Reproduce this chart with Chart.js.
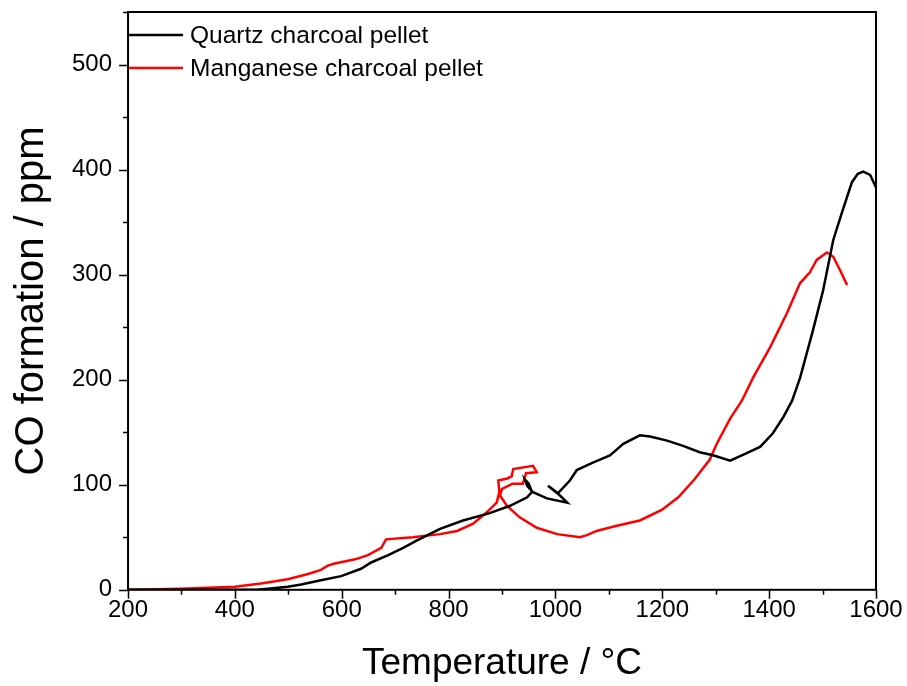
<!DOCTYPE html>
<html>
<head>
<meta charset="utf-8">
<script src="https://cdn.jsdelivr.net/npm/chart.js@4"></script>
<style>
  html, body { margin: 0; padding: 0; background: #fff; }
  #wrap { width: 907px; height: 686px; }
</style>
</head>
<body>
<div id="wrap"><canvas id="coChart" width="907" height="686"></canvas></div>
<script>
// Quartz charcoal pellet: temperature (°C) and CO (ppm), in recorded order
const quartzTemp = [200, 300, 400, 440, 462, 499, 524, 561, 599, 636, 655, 687, 715, 741, 784, 827, 877, 915, 947, 956, 950, 943, 947, 958, 984, 1022, 1008, 986, 1005, 1027, 1040, 1070, 1102, 1127, 1158, 1177, 1209, 1239, 1270, 1295, 1327, 1358, 1383, 1407, 1426, 1443, 1458, 1482, 1501, 1520, 1538, 1555, 1566, 1576, 1589, 1600];
const quartzCO = [0, 0, 0, 0, 1, 3, 5, 9, 13, 20, 26, 33, 40, 47, 58, 66, 73, 80, 88, 93, 101, 105, 99, 93, 87, 83, 90, 99, 92, 104, 114, 121, 128, 139, 147, 146, 142, 137, 131, 128, 123, 130, 136, 149, 164, 180, 202, 247, 285, 333, 362, 388, 396, 398, 395, 383];

// Manganese charcoal pellet
const manganeseTemp = [200, 299, 400, 449, 499, 537, 561, 574, 587, 625, 649, 674, 683, 733, 784, 816, 846, 872, 890, 895, 893, 910, 918, 921, 958, 965, 945, 939, 920, 900, 896, 909, 933, 965, 1003, 1046, 1059, 1077, 1115, 1158, 1199, 1230, 1260, 1289, 1302, 1327, 1349, 1370, 1402, 1433, 1458, 1476, 1489, 1508, 1520, 1533, 1546];
const manganeseCO = [0, 1, 3, 6, 10, 15, 19, 23, 25, 29, 33, 40, 48, 50, 53, 56, 63, 74, 83, 93, 104, 106, 108, 115, 118, 112, 111, 101, 101, 96, 90, 80, 69, 59, 53, 50, 52, 56, 61, 66, 76, 88, 105, 124, 139, 163, 180, 202, 231, 263, 292, 302, 314, 321, 317, 304, 290];

const seriesLabels = ['Quartz charcoal pellet', 'Manganese charcoal pellet'];
const seriesColors = ['#000000', '#ff0000'];

const FONT = '"Liberation Sans", Arial, sans-serif';

const toPoints = (xs, ys) => xs.map((x, i) => ({ x: x, y: ys[i] }));

// frame, tick marks and the legend are drawn by hand
const framePlugin = {
  id: 'frame',
  afterDraw(chart) {
    const { ctx, chartArea: a, scales } = chart;
    ctx.save();
    ctx.strokeStyle = '#000';
    ctx.lineWidth = 2;
    ctx.strokeRect(a.left, a.top, a.right - a.left, a.bottom - a.top);

    ctx.lineWidth = 1.5;
    ctx.beginPath();
    for (let v = 200; v <= 1600; v += 100) {
      const px = Math.round(scales.x.getPixelForValue(v)) + 0.5;
      const len = v % 200 === 0 ? 9 : 5;
      ctx.moveTo(px, a.bottom);
      ctx.lineTo(px, a.bottom + len);
    }
    for (let v = 0; v <= 550; v += 50) {
      const py = Math.round(scales.y.getPixelForValue(v)) + 0.5;
      const len = v % 100 === 0 ? 9 : 5;
      ctx.moveTo(a.left, py);
      ctx.lineTo(a.left - len, py);
    }
    ctx.stroke();

    // legend
    ctx.font = '24.5px ' + FONT;
    ctx.textBaseline = 'middle';
    ctx.fillStyle = '#000';
    chart.data.datasets.forEach((ds, i) => {
      const y = a.top + 23 + i * 33;
      ctx.strokeStyle = ds.borderColor;
      ctx.lineWidth = 2.5;
      ctx.beginPath();
      ctx.moveTo(a.left + 1, y);
      ctx.lineTo(a.left + 55, y);
      ctx.stroke();
      ctx.fillText(ds.label, a.left + 62, y + 1);
    });
    ctx.restore();
  },
};

new Chart(document.getElementById('coChart'), {
  type: 'scatter',
  data: {
    datasets: [
      {
        label: seriesLabels[0],
        data: toPoints(quartzTemp, quartzCO),
        borderColor: seriesColors[0],
        backgroundColor: seriesColors[0],
      },
      {
        label: seriesLabels[1],
        data: toPoints(manganeseTemp, manganeseCO),
        borderColor: seriesColors[1],
        backgroundColor: seriesColors[1],
      },
    ],
  },
  options: {
    responsive: false,
    animation: false,
    showLine: true,
    elements: {
      point: { radius: 0, hoverRadius: 0 },
      line: { borderWidth: 2.5, tension: 0 },
    },
    layout: { padding: { top: 12, right: 31, left: 8, bottom: 0 } },
    plugins: {
      legend: { display: false },
      tooltip: { enabled: false },
    },
    scales: {
      x: {
        type: 'linear',
        min: 200,
        max: 1600,
        grid: { display: false, drawTicks: false },
        border: { display: false },
        // the layout padding already leaves room for the 1600 label
        afterFit: (scale) => {
          scale.paddingRight = 0;
        },
        ticks: {
          stepSize: 200,
          autoSkip: false,
          maxRotation: 0,
          padding: 6,
          color: '#000',
          font: { family: FONT, size: 24 },
          callback: (v) => String(v),
        },
        title: {
          display: true,
          text: 'Temperature / °C',
          color: '#000',
          font: { family: FONT, size: 37 },
          padding: { top: 11, bottom: 0 },
        },
      },
      y: {
        min: 0,
        max: 550,
        grid: { display: false, drawTicks: false },
        border: { display: false },
        // labelled ticks only every 100 ppm; the 50 ppm marks come from the frame plugin
        afterBuildTicks: (scale) => {
          scale.ticks = scale.ticks.filter((t) => t.value % 100 === 0);
        },
        // the top label (500) sits well below the axis end, so no overhang is needed
        afterFit: (scale) => {
          scale.paddingTop = 0;
        },
        ticks: {
          stepSize: 100,
          autoSkip: false,
          padding: 16,
          color: '#000',
          font: { family: FONT, size: 24 },
          callback: (v) => String(v),
        },
        title: {
          display: true,
          text: 'CO formation / ppm',
          color: '#000',
          font: { family: FONT, size: 40 },
          padding: { top: 0, bottom: 0 },
        },
      },
    },
  },
  plugins: [framePlugin],
});
</script>
</body>
</html>
